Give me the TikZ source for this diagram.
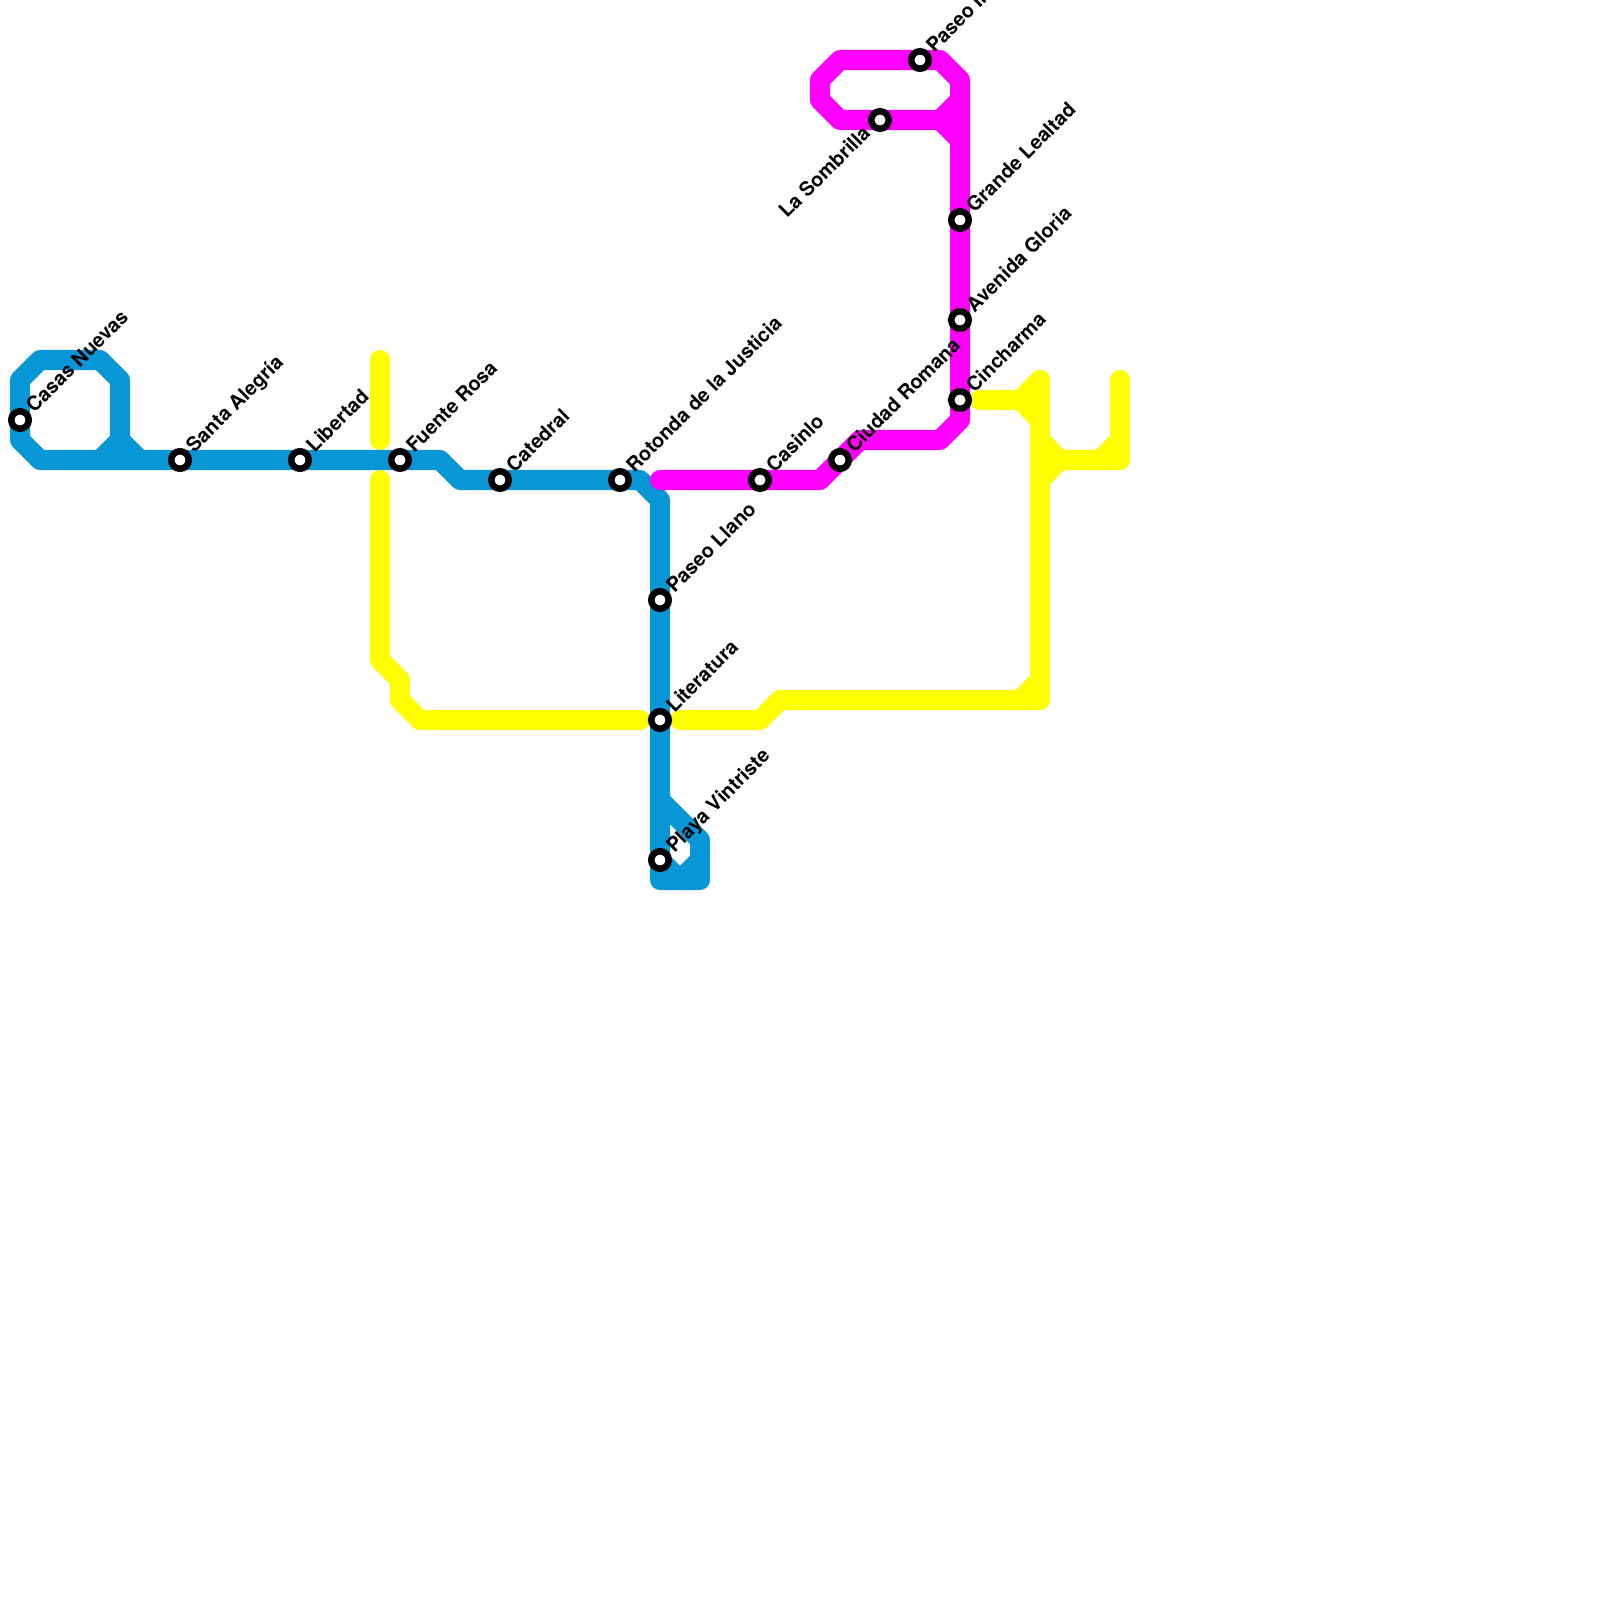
\documentclass[tikz,border=0pt]{standalone}
\usepackage{fontspec}
\setmainfont{TeX Gyre Heros}
\definecolor{lblue}{HTML}{0896D7}
\definecolor{lmag}{HTML}{FF00FF}
\definecolor{lyel}{HTML}{FFFF00}
\tikzset{
  metro/.style={line width=0.2cm,line cap=round,line join=round},
  stn/.style={circle,draw=black,fill=white,line width=0.065cm,minimum size=0.175cm,inner sep=0pt,outer sep=0pt},
  lab/.style={font=\fontsize{5.65pt}{6.5pt}\selectfont\bfseries,text=black,inner sep=0pt,rotate=45,anchor=base west},
  labr/.style={font=\fontsize{5.65pt}{6.5pt}\selectfont\bfseries,text=black,inner sep=0pt,rotate=45,anchor=north east}
}
\begin{document}
\begin{tikzpicture}[x=0.01cm,y=-0.01cm]
\useasboundingbox (0,0) rectangle (1600,1600);
% yellow
\draw[metro,lyel] (380,360) -- (380,440);
\draw[metro,lyel] (380,480) -- (380,660) -- (400,680) -- (400,700) -- (420,720) -- (640,720);
\draw[metro,lyel] (680,720) -- (760,720) -- (780,700) -- (1040,700) -- (1040,380) -- (1020,400) -- (980,400);
\draw[metro,lyel] (1020,700) -- (1040,680);
\draw[metro,lyel] (1020,400) -- (1040,420);
\draw[metro,lyel] (1040,440) -- (1060,460) -- (1120,460) -- (1120,380);
\draw[metro,lyel] (1100,460) -- (1120,440);
\draw[metro,lyel] (1060,460) -- (1040,480);
% blue
\draw[metro,lblue] (120,440) -- (120,380) -- (100,360) -- (40,360) -- (20,380) -- (20,440) -- (40,460) -- (440,460) -- (460,480) -- (640,480) -- (660,500) -- (660,880) -- (700,880) -- (700,840) -- (660,800);
\draw[metro,lblue] (100,460) -- (120,440) -- (140,460);
\draw[metro,lblue] (660,860) -- (680,880) -- (700,860);
% magenta
\draw[metro,lmag] (660,480) -- (820,480) -- (860,440) -- (940,440) -- (960,420) -- (960,80) -- (940,60) -- (840,60) -- (820,80) -- (820,100) -- (840,120) -- (940,120) -- (960,100);
\draw[metro,lmag] (940,120) -- (960,140);
% stations
\foreach \n/\x/\y in {a/20/420,b/180/460,c/300/460,d/400/460,e/500/480,f/620/480,g/660/600,h/660/720,i/660/860,j/760/480,k/840/460,l/880/120,m/920/60,n/960/220,o/960/320,p/960/400}
  \node[stn] (\n) at (\x,\y) {};
\node[lab] at ([shift={(14,-6)}]a.center) {Casas Nuevas};
\node[lab] at ([shift={(14,-6)}]b.center) {Santa Alegría};
\node[lab] at ([shift={(14,-6)}]c.center) {Libertad};
\node[lab] at ([shift={(14,-6)}]d.center) {Fuente Rosa};
\node[lab] at ([shift={(14,-6)}]e.center) {Catedral};
\node[lab] at ([shift={(14,-6)}]f.center) {Rotonda de la Justicia};
\node[lab] at ([shift={(14,-6)}]g.center) {Paseo Llano};
\node[lab] at ([shift={(14,-6)}]h.center) {Literatura};
\node[lab] at ([shift={(14,-6)}]i.center) {Playa Vintriste};
\node[lab] at ([shift={(14,-6)}]j.center) {Casinlo};
\node[lab] at ([shift={(14,-6)}]k.center) {Ciudad Romana};
\node[labr] at ([shift={(-19,3)}]l.center) {La Sombrilla};
\node[lab] at ([shift={(14,-6)}]m.center) {Paseo Imperial};
\node[lab] at ([shift={(14,-6)}]n.center) {Grande Lealtad};
\node[lab] at ([shift={(14,-6)}]o.center) {Avenida Gloria};
\node[lab] at ([shift={(14,-6)}]p.center) {Cincharma};
\end{tikzpicture}
\end{document}
